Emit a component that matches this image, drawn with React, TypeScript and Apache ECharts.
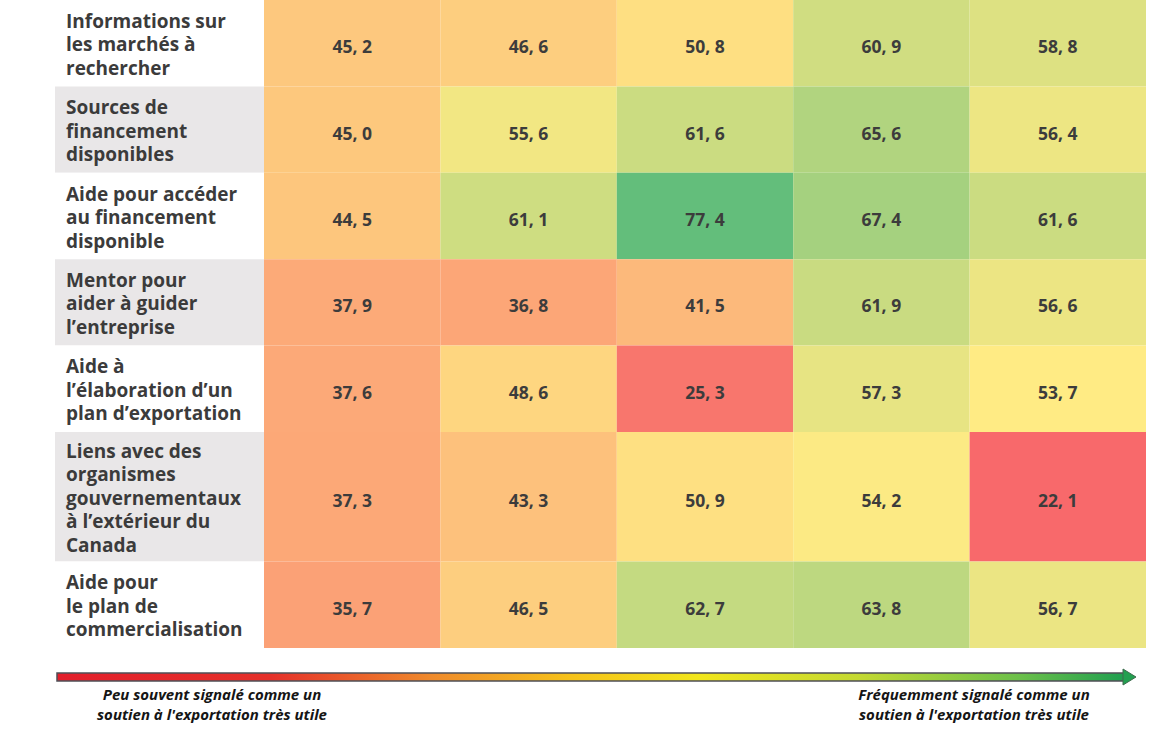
import React, { useEffect, useRef } from "react";
import * as echarts from "echarts";

const rowLabels = [
  "Informations sur\nles marchés à\nrechercher",
  "Sources de\nfinancement\ndisponibles",
  "Aide pour accéder\nau financement\ndisponible",
  "Mentor pour\naider à guider\nl’entreprise",
  "Aide à\nl’élaboration d’un\nplan d’exportation",
  "Liens avec des\norganismes\ngouvernementaux\nà l’extérieur du\nCanada",
  "Aide pour\nle plan de\ncommercialisation",
];

const col1 = [45.2, 45.0, 44.5, 37.9, 37.6, 37.3, 35.7];
const col2 = [46.6, 55.6, 61.1, 36.8, 48.6, 43.3, 46.5];
const col3 = [50.8, 61.6, 77.4, 41.5, 25.3, 50.9, 62.7];
const col4 = [60.9, 65.6, 67.4, 61.9, 57.3, 54.2, 63.8];
const col5 = [58.8, 56.4, 61.6, 56.6, 53.7, 22.1, 56.7];
const columns = [col1, col2, col3, col4, col5];

const leftNote = "Peu souvent signalé comme un\nsoutien à l'exportation très utile";
const rightNote = "Fréquemment signalé comme un\nsoutien à l'exportation très utile";

// layout: relative row heights
const rowSpans = [1, 1, 1, 1, 1, 1.5, 1];

export default function App() {
  const ref = useRef<HTMLDivElement>(null);
  useEffect(() => {
    document.body.style.margin = "0";
    if (!ref.current) return;
    const chart = echarts.init(ref.current, undefined, { renderer: "svg" });

    const rowStarts: number[] = [];
    let acc = 0;
    rowSpans.forEach((s) => {
      rowStarts.push(acc);
      acc += s;
    });
    const total = acc;

    const heatData: number[][] = [];
    columns.forEach((col, c) => {
      col.forEach((v, r) => heatData.push([c, r, v]));
    });
    const allVals = heatData.map((d) => d[2]);
    const vMin = Math.min(...allVals);
    const vMax = Math.max(...allVals);

    const labelData = rowLabels.map((_, r) => [r]);
    const font = "'Open Sans', 'DejaVu Sans', sans-serif";

    chart.setOption({
      animation: false,
      backgroundColor: "#ffffff",
      grid: [
        { left: 55, top: 0, width: 209, height: 648 },
        { left: 264, top: 0, width: 882, height: 648 },
      ],
      xAxis: [
        { gridIndex: 0, type: "value", min: 0, max: 1, show: false },
        { gridIndex: 1, type: "value", min: 0, max: columns.length, show: false },
      ],
      yAxis: [
        { gridIndex: 0, type: "value", min: 0, max: total, inverse: true, show: false },
        { gridIndex: 1, type: "value", min: 0, max: total, inverse: true, show: false },
      ],
      visualMap: {
        type: "continuous",
        show: false,
        seriesIndex: 1,
        dimension: 2,
        min: vMin,
        max: vMax,
        inRange: {
          color: [
            "#F8696B",
            "#F98A71",
            "#FCAA78",
            "#FDCB7E",
            "#FFEB84",
            "#CBDC81",
            "#97CD7E",
            "#63BE7B",
          ],
        },
      },
      series: [
        {
          type: "custom",
          xAxisIndex: 0,
          yAxisIndex: 0,
          data: labelData,
          renderItem: (params: any, api: any) => {
            const r = api.value(0);
            const p0 = api.coord([0, rowStarts[r]]);
            const p1 = api.coord([1, rowStarts[r] + rowSpans[r]]);
            return {
              type: "group",
              children: [
                {
                  type: "rect",
                  shape: { x: p0[0], y: p0[1], width: p1[0] - p0[0], height: p1[1] - p0[1] },
                  style: { fill: r % 2 === 1 ? "#E9E7E8" : "#FFFFFF" },
                },
                {
                  type: "text",
                  style: {
                    text: rowLabels[r],
                    x: p0[0] + 11,
                    y: (p0[1] + p1[1]) / 2 + 1,
                    align: "left",
                    verticalAlign: "middle",
                    fontFamily: font,
                    fontWeight: "bold",
                    fontSize: 19,
                    lineHeight: 23.5,
                    fill: "#3B3B3B",
                  },
                },
              ],
            };
          },
        },
        {
          type: "custom",
          xAxisIndex: 1,
          yAxisIndex: 1,
          data: heatData,
          renderItem: (params: any, api: any) => {
            const c = api.value(0);
            const r = api.value(1);
            const v = api.value(2);
            const p0 = api.coord([c, rowStarts[r]]);
            const p1 = api.coord([c + 1, rowStarts[r] + rowSpans[r]]);
            return {
              type: "group",
              children: [
                {
                  type: "rect",
                  shape: { x: p0[0], y: p0[1], width: p1[0] - p0[0], height: p1[1] - p0[1] },
                  style: { fill: api.visual("color") },
                },
                {
                  type: "text",
                  style: {
                    text: v.toFixed(1).replace(".", ", "),
                    x: (p0[0] + p1[0]) / 2,
                    y: (p0[1] + p1[1]) / 2 + 3,
                    align: "center",
                    verticalAlign: "middle",
                    fontFamily: font,
                    fontWeight: "bold",
                    fontSize: 17.5,
                    fill: "#3C3C3C",
                  },
                },
              ],
            };
          },
        },
      ],
      graphic: [
        {
          type: "rect",
          shape: { x: 57, y: 673, width: 1068, height: 8 },
          style: {
            fill: new echarts.graphic.LinearGradient(0, 0, 1, 0, [
              { offset: 0, color: "#E21E2B" },
              { offset: 0.2, color: "#E5302A" },
              { offset: 0.35, color: "#EF8A2C" },
              { offset: 0.48, color: "#F6C21A" },
              { offset: 0.6, color: "#F2E61B" },
              { offset: 0.75, color: "#C4D932" },
              { offset: 0.9, color: "#6CC04A" },
              { offset: 1, color: "#1F9F50" },
            ]),
            stroke: "#4F4F55",
            lineWidth: 1.5,
          },
        },
        {
          type: "polygon",
          shape: {
            points: [
              [1123, 669],
              [1136, 677],
              [1123, 685],
            ],
          },
          style: { fill: "#22A050", stroke: "#3E6B4E", lineWidth: 1 },
        },
        {
          type: "text",
          style: {
            text: leftNote,
            x: 212,
            y: 704,
            align: "center",
            verticalAlign: "middle",
            fontFamily: font,
            fontStyle: "italic",
            fontWeight: "bold",
            fontSize: 15,
            lineHeight: 20,
            fill: "#151515",
          },
        },
        {
          type: "text",
          style: {
            text: rightNote,
            x: 974,
            y: 704,
            align: "center",
            verticalAlign: "middle",
            fontFamily: font,
            fontStyle: "italic",
            fontWeight: "bold",
            fontSize: 15,
            lineHeight: 20,
            fill: "#151515",
          },
        },
      ],
    });
    return () => chart.dispose();
  }, []);
  return <div ref={ref} style={{ width: 1151, height: 730 }} />;
}
